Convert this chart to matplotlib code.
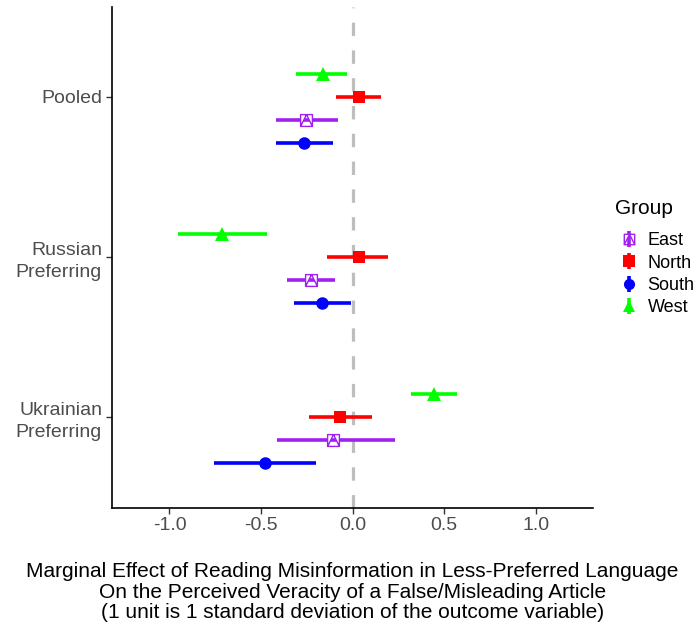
import matplotlib
matplotlib.use("Agg")
import matplotlib.pyplot as plt
from matplotlib.lines import Line2D
from matplotlib.legend_handler import HandlerTuple
from matplotlib.path import Path
import numpy as np

plt.rcParams['font.family'] = ['Liberation Sans', 'DejaVu Sans']

# Data (bottom to top)
categories = ["Ukrainian\nPreferring", "Russian\nPreferring", "Pooled"]
groups = ["East", "North", "South", "West"]

est = {
    "East":  [-0.106, -0.226, -0.253],
    "North": [-0.069, 0.034, 0.034],
    "South": [-0.477, -0.166, -0.267],
    "West":  [0.442, -0.715, -0.164],
}
lo = {
    "East":  [-0.413, -0.358, -0.418],
    "North": [-0.240, -0.140, -0.091],
    "South": [-0.758, -0.318, -0.418],
    "West":  [0.318, -0.953, -0.309],
}
hi = {
    "East":  [0.229, -0.097, -0.080],
    "North": [0.104, 0.191, 0.153],
    "South": [-0.200, -0.008, -0.109],
    "West":  [0.569, -0.468, -0.031],
}

colors = {"East": "#A020F0", "North": "#FF0000", "South": "#0000FF", "West": "#00FF00"}
offsets = {"East": -0.144, "North": 0.0, "South": -0.288, "West": 0.144}

# hollow square with a triangle inside (ggplot shape 14)
sq_tri = Path(
    [(-1, -1), (1, -1), (1, 1), (-1, 1), (-1, -1), (-1, -1), (0, 1), (1, -1)],
    [Path.MOVETO, Path.LINETO, Path.LINETO, Path.LINETO, Path.CLOSEPOLY,
     Path.MOVETO, Path.LINETO, Path.LINETO],
)
markers = {"East": sq_tri, "North": "s", "South": "o", "West": "^"}
msizes = {"East": 8.5, "North": 9, "South": 9, "West": 10}

fig = plt.figure(figsize=(6.97, 6.29), dpi=100)
ax = fig.add_axes([0.1603, 0.1928, 0.6909, 0.7962])

ax.axvline(0, color="#BEBEBE", lw=2.3, dashes=(4.2, 4.5), zorder=1)

ypos = np.arange(1, len(categories) + 1)
handles = []
for g in groups:
    y = ypos + offsets[g]
    ax.hlines(y, lo[g], hi[g], color=colors[g], lw=2.6, zorder=2)
    if g == "East":
        ax.plot(est[g], y, ls="none", marker=markers[g], ms=msizes[g],
                mfc="white", mec=colors[g], mew=1.0, zorder=3)
        key = Line2D([], [], ls="none", marker=markers[g], ms=msizes[g] - 1,
                     mfc="white", mec=colors[g], mew=1.0)
    else:
        ax.plot(est[g], y, ls="none", marker=markers[g], ms=msizes[g],
                color=colors[g], mew=0, zorder=3)
        key = Line2D([], [], ls="none", marker=markers[g], ms=msizes[g] - 1,
                     color=colors[g], mew=0)
    bar = Line2D([], [], ls="none", marker="|", ms=12, mew=2.6, color=colors[g])
    handles.append((bar, key))

ax.set_xlim(-1.315, 1.313)
ax.set_ylim(0.435, 3.56)
ax.set_xticks([-1.0, -0.5, 0.0, 0.5, 1.0])
ax.set_xticklabels(["-1.0", "-0.5", "0.0", "0.5", "1.0"])
ax.set_yticks(ypos)
ax.set_yticklabels(categories, ha="right", multialignment="right")

ax.tick_params(axis="both", labelsize=14, colors="#333333", labelcolor="#4D4D4D",
               length=4, width=1, pad=3)
for t in ax.get_yticklabels():
    t.set_linespacing(1.4)
for s in ["top", "right"]:
    ax.spines[s].set_visible(False)
for s in ["left", "bottom"]:
    ax.spines[s].set_linewidth(1.2)
    ax.spines[s].set_color("black")

ax.set_xlabel("Marginal Effect of Reading Misinformation in Less-Preferred Language\n"
              "On the Perceived Veracity of a False/Misleading Article\n"
              "(1 unit is 1 standard deviation of the outcome variable)",
              fontsize=15, labelpad=20, linespacing=1.1)

# legend title placed separately so its gap to the keys can be set
fig.text(0.882, 0.669, "Group", fontsize=15, ha="left", va="center")
leg = fig.legend(handles, groups, handler_map={tuple: HandlerTuple(ndivide=1)},
                 loc="upper left", bbox_to_anchor=(0.872, 0.651),
                 frameon=False, fontsize=13, borderpad=0.2,
                 handlelength=1.0, handletextpad=0.5, labelspacing=0.3)

fig.savefig("out.png", dpi=100)
